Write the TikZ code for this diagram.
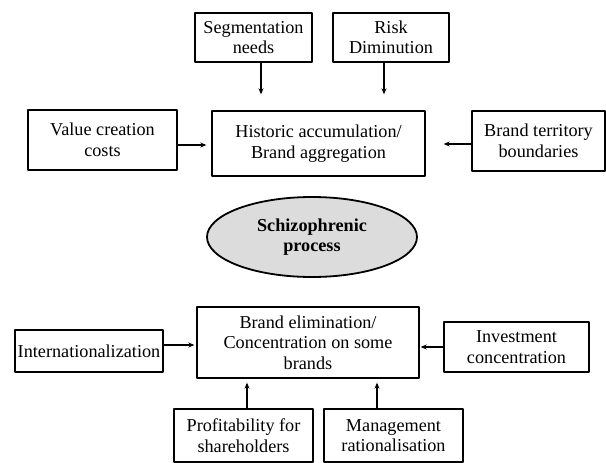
\documentclass[tikz,border=0pt]{standalone}
\usepackage{fontspec}
\setmainfont{Liberation Serif}
\usetikzlibrary{arrows.meta,shapes.geometric}
\definecolor{procgray}{RGB}{220,220,220}
\begin{document}
\begin{tikzpicture}[x=1pt,y=-1pt,line join=round,>={Stealth[length=6pt,width=5pt]},line width=1.4pt]
	\tikzset{every node/.style={font=\fontsize{18.2}{20.5}\selectfont,align=center,inner sep=0pt}}
	\tikzset{factor/.style={draw,rectangle,line width=1.4pt}}
	\useasboundingbox (0,0) rectangle (606,463);
	% upper part
	\node[factor,minimum width=117pt,minimum height=49pt] (seg) at (253.5,37.5) {Segmentation\\needs};
	\node[factor,minimum width=116pt,minimum height=49pt] (risk) at (391,37.5) {Risk\\Diminution};
	\node[factor,minimum width=213pt,minimum height=65pt] (hist) at (318.5,143.5) {Historic accumulation/\\Brand aggregation};
	\node[factor,minimum width=149pt,minimum height=60pt] (value) at (102.5,140) {Value creation\\costs};
	\node[factor,minimum width=133pt,minimum height=60pt] (terr) at (538.5,141) {Brand territory\\boundaries};
	% middle
	\node[draw,ellipse,fill=procgray,line width=1.8pt,minimum width=210pt,minimum height=80pt,font=\fontsize{18.2}{20}\selectfont\bfseries] (proc) at (312,237) {Schizophrenic\\process};
	% lower part
	\node[factor,minimum width=222pt,minimum height=71pt] (elim) at (308,342.5) {Brand elimination/\\Concentration on some\\brands};
	\node[factor,minimum width=148pt,minimum height=42pt] (intl) at (89,351) {Internationalization};
	\node[factor,minimum width=145pt,minimum height=50pt] (invest) at (516.5,347) {Investment\\concentration};
	\node[factor,minimum width=139pt,minimum height=53pt] (prof) at (243.5,435.5) {Profitability for\\shareholders};
	\node[factor,minimum width=139pt,minimum height=53pt] (mgmt) at (393.5,435.5) {Management\\rationalisation};
	% arrows
	\draw[->,shorten >=16pt] ([xshift=7.5pt]seg.south) -- ([xshift=7.5pt]seg.south |- hist.north);
	\draw[->,shorten >=16pt] ([xshift=-7pt]risk.south) -- ([xshift=-7pt]risk.south |- hist.north);
	\draw[->,shorten >=5pt] ([yshift=-5pt]value.east) -- ([yshift=-5pt]value.east -| hist.west);
	\draw[->,shorten >=18pt] ([yshift=-3pt]terr.west) -- ([yshift=-3pt]terr.west -| hist.east);
	\draw[->,shorten >=2pt] ([yshift=6pt]intl.east) -- ([yshift=6pt]intl.east -| elim.west);
	\draw[->,shorten >=1pt] (invest.west) -- (invest.west -| elim.east);
	\draw[->,shorten >=4pt] ([xshift=3.5pt]prof.north) -- ([xshift=3.5pt]prof.north |- elim.south);
	\draw[->,shorten >=4pt] ([xshift=-16.5pt]mgmt.north) -- ([xshift=-16.5pt]mgmt.north |- elim.south);
\end{tikzpicture}
\end{document}
